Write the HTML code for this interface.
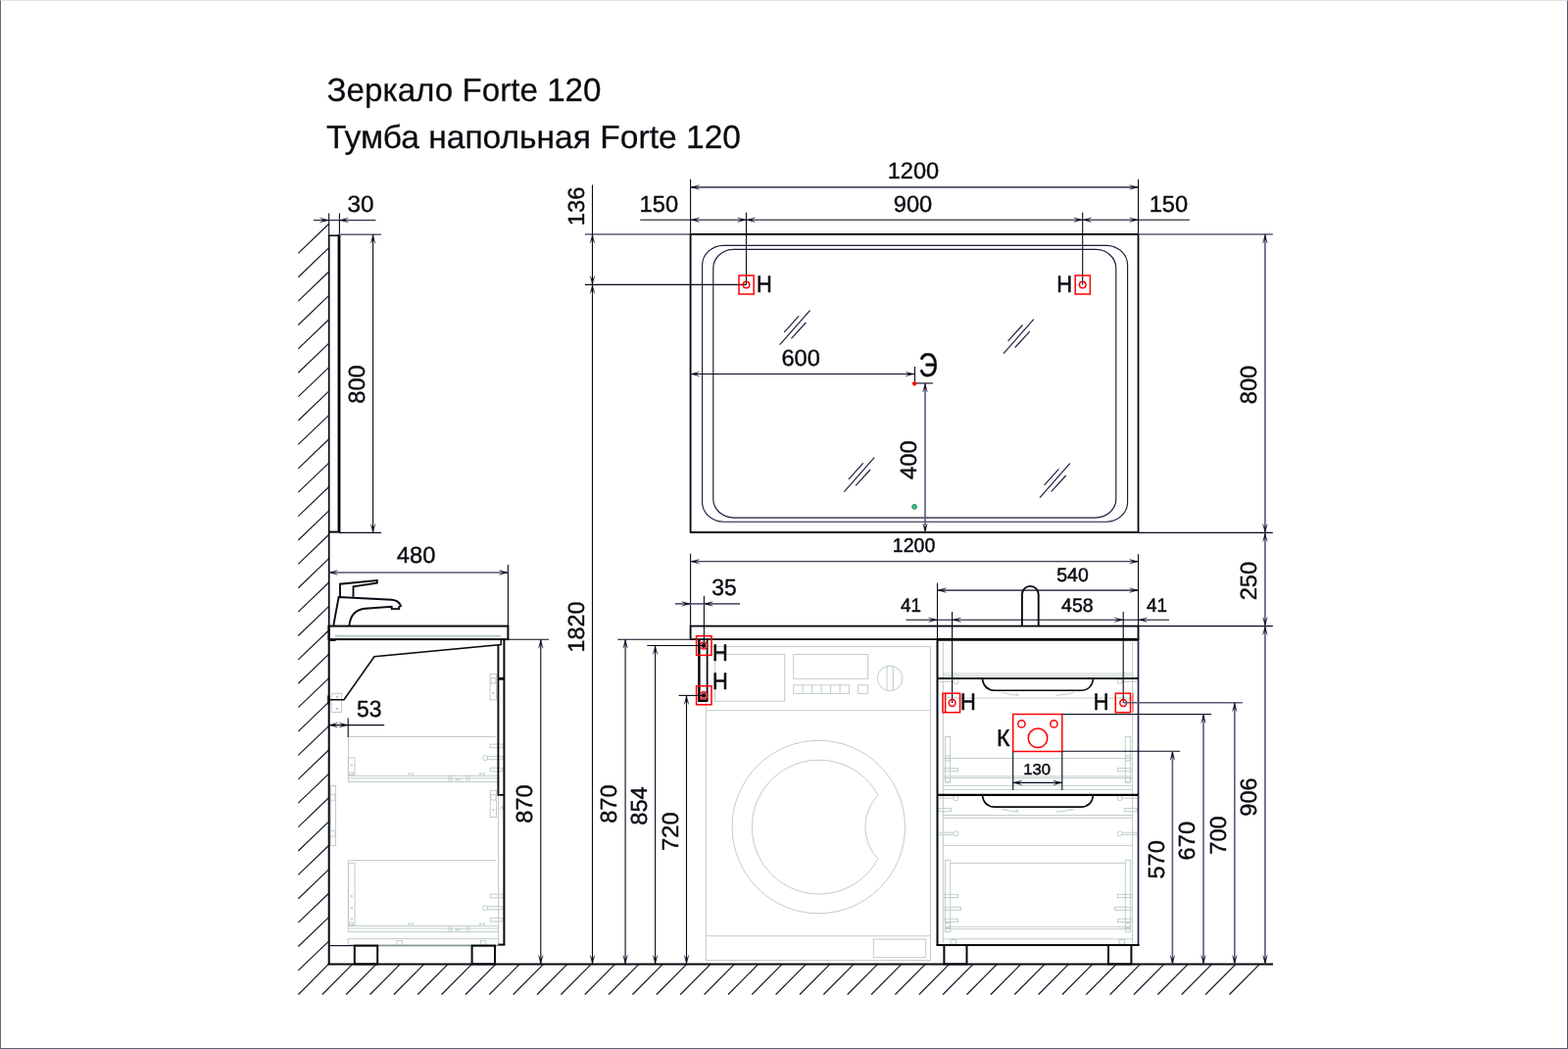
<!DOCTYPE html>
<html lang="ru">
<head>
<meta charset="utf-8">
<title>Зеркало Forte 120 / Тумба напольная Forte 120</title>
<style>
html,body{margin:0;padding:0;background:#fff;}
body{width:1600px;height:1070px;overflow:hidden;position:relative;font-family:"Liberation Sans",sans-serif;}
.frame{position:absolute;left:0;top:0;width:1598px;height:1068px;border-left:1px solid #64647e;border-right:1px solid #54547a;border-bottom:1px solid #5e5e80;border-top:1px solid #dfe5e5;}
svg{position:absolute;left:0;top:0;display:block;will-change:transform;}
svg *{fill:none;}
svg text{font-family:"Liberation Sans",sans-serif;fill:#0a0a12;stroke:#0a0a12;stroke-width:0.38;text-rendering:geometricPrecision;}
svg text.ttl{fill:#0a0a10;stroke-width:0.25;}
svg text.tb{stroke-width:0.5;}
svg text.ts{stroke-width:0.45;}
.k{stroke:#08080f;stroke-width:2;}
.kk{stroke:#000;stroke-width:2.8;}
.kd{stroke:#000;stroke-width:2.4;}
.k2{stroke:#22223f;stroke-width:1.7;}
.kf{fill:#0a0a14 !important;stroke:none;}
.m{stroke:#0a0a14;stroke-width:1.6;stroke-linejoin:miter;}
.ms{stroke:#05050f;stroke-width:1.8;}
.fc{stroke:#0a0a14;stroke-width:1.9;stroke-linejoin:miter;}
.w1{stroke:#0c0c1c;stroke-width:1.75;}
.h{stroke:#14142c;stroke-width:1.15;}
.n{stroke:#1a1a3a;stroke-width:1.15;}
.d{stroke:#08081c;stroke-width:1.1;}
.d2{stroke:#5a5a78;stroke-width:1.6;}
.a{fill:#0b0b1e !important;stroke:#0b0b1e;stroke-width:0.3;stroke-linejoin:miter;}
.d3{stroke:#2e2e4a;stroke-width:1.3;}
.l{stroke:#bfcdc8;stroke-width:1;}
.l2{stroke:#b3c4be;stroke-width:1.7;}
.l3{stroke:#7d8c90;stroke-width:1.2;}
.r{stroke:#ff0000;stroke-width:1.5;}
.r2{stroke:#ff3030;stroke-width:1;}
.rf{fill:#f00 !important;stroke:none;}
.g{fill:#2ecf8a !important;stroke:#1d5a48;stroke-width:0.8;}
</style>
</head>
<body>
<div class="frame"></div>
<svg width="1600" height="1070" viewBox="0 0 1600 1070">
<g id="titles">
<text class="ttl" x="333.5" y="102.7" font-size="33.2" textLength="280" lengthAdjust="spacingAndGlyphs">Зеркало Forte 120</text>
<text class="ttl" x="333" y="151.3" font-size="33.2" textLength="423" lengthAdjust="spacingAndGlyphs">Тумба напольная Forte 120</text>
</g>
<g id="hatch">
<line class="h" x1="304.3" y1="989.9" x2="335.7" y2="959.8"/>
<line class="h" x1="304.3" y1="965.51" x2="335.7" y2="935.41"/>
<line class="h" x1="304.3" y1="941.13" x2="335.7" y2="911.03"/>
<line class="h" x1="304.3" y1="916.75" x2="335.7" y2="886.64"/>
<line class="h" x1="304.3" y1="892.36" x2="335.7" y2="862.26"/>
<line class="h" x1="304.3" y1="867.98" x2="335.7" y2="837.88"/>
<line class="h" x1="304.3" y1="843.59" x2="335.7" y2="813.49"/>
<line class="h" x1="304.3" y1="819.2" x2="335.7" y2="789.1"/>
<line class="h" x1="304.3" y1="794.82" x2="335.7" y2="764.72"/>
<line class="h" x1="304.3" y1="770.43" x2="335.7" y2="740.33"/>
<line class="h" x1="304.3" y1="746.05" x2="335.7" y2="715.95"/>
<line class="h" x1="304.3" y1="721.66" x2="335.7" y2="691.56"/>
<line class="h" x1="304.3" y1="697.28" x2="335.7" y2="667.18"/>
<line class="h" x1="304.3" y1="672.89" x2="335.7" y2="642.79"/>
<line class="h" x1="304.3" y1="648.51" x2="335.7" y2="618.41"/>
<line class="h" x1="304.3" y1="624.12" x2="335.7" y2="594.02"/>
<line class="h" x1="304.3" y1="599.74" x2="335.7" y2="569.64"/>
<line class="h" x1="304.3" y1="575.35" x2="335.7" y2="545.25"/>
<line class="h" x1="304.3" y1="550.97" x2="335.7" y2="520.87"/>
<line class="h" x1="304.3" y1="526.58" x2="335.7" y2="496.48"/>
<line class="h" x1="304.3" y1="502.2" x2="335.7" y2="472.1"/>
<line class="h" x1="304.3" y1="477.81" x2="335.7" y2="447.71"/>
<line class="h" x1="304.3" y1="453.43" x2="335.7" y2="423.33"/>
<line class="h" x1="304.3" y1="429.04" x2="335.7" y2="398.94"/>
<line class="h" x1="304.3" y1="404.66" x2="335.7" y2="374.56"/>
<line class="h" x1="304.3" y1="380.27" x2="335.7" y2="350.17"/>
<line class="h" x1="304.3" y1="355.89" x2="335.7" y2="325.79"/>
<line class="h" x1="304.3" y1="331.5" x2="335.7" y2="301.4"/>
<line class="h" x1="304.3" y1="307.12" x2="335.7" y2="277.02"/>
<line class="h" x1="304.3" y1="282.73" x2="335.7" y2="252.63"/>
<line class="h" x1="304.3" y1="258.35" x2="335.7" y2="228.25"/>
<line class="h" x1="304.4" y1="1014.5" x2="335.6" y2="983.2"/>
<line class="h" x1="328.76" y1="1014.5" x2="359.96" y2="983.2"/>
<line class="h" x1="353.12" y1="1014.5" x2="384.32" y2="983.2"/>
<line class="h" x1="377.48" y1="1014.5" x2="408.68" y2="983.2"/>
<line class="h" x1="401.84" y1="1014.5" x2="433.04" y2="983.2"/>
<line class="h" x1="426.2" y1="1014.5" x2="457.4" y2="983.2"/>
<line class="h" x1="450.56" y1="1014.5" x2="481.76" y2="983.2"/>
<line class="h" x1="474.92" y1="1014.5" x2="506.12" y2="983.2"/>
<line class="h" x1="499.28" y1="1014.5" x2="530.48" y2="983.2"/>
<line class="h" x1="523.64" y1="1014.5" x2="554.84" y2="983.2"/>
<line class="h" x1="548" y1="1014.5" x2="579.2" y2="983.2"/>
<line class="h" x1="572.36" y1="1014.5" x2="603.56" y2="983.2"/>
<line class="h" x1="596.72" y1="1014.5" x2="627.92" y2="983.2"/>
<line class="h" x1="621.08" y1="1014.5" x2="652.28" y2="983.2"/>
<line class="h" x1="645.44" y1="1014.5" x2="676.64" y2="983.2"/>
<line class="h" x1="669.8" y1="1014.5" x2="701" y2="983.2"/>
<line class="h" x1="694.16" y1="1014.5" x2="725.36" y2="983.2"/>
<line class="h" x1="718.52" y1="1014.5" x2="749.72" y2="983.2"/>
<line class="h" x1="742.88" y1="1014.5" x2="774.08" y2="983.2"/>
<line class="h" x1="767.24" y1="1014.5" x2="798.44" y2="983.2"/>
<line class="h" x1="791.6" y1="1014.5" x2="822.8" y2="983.2"/>
<line class="h" x1="815.96" y1="1014.5" x2="847.16" y2="983.2"/>
<line class="h" x1="840.32" y1="1014.5" x2="871.52" y2="983.2"/>
<line class="h" x1="864.68" y1="1014.5" x2="895.88" y2="983.2"/>
<line class="h" x1="889.04" y1="1014.5" x2="920.24" y2="983.2"/>
<line class="h" x1="913.4" y1="1014.5" x2="944.6" y2="983.2"/>
<line class="h" x1="937.76" y1="1014.5" x2="968.96" y2="983.2"/>
<line class="h" x1="962.12" y1="1014.5" x2="993.32" y2="983.2"/>
<line class="h" x1="986.48" y1="1014.5" x2="1017.68" y2="983.2"/>
<line class="h" x1="1010.84" y1="1014.5" x2="1042.04" y2="983.2"/>
<line class="h" x1="1035.2" y1="1014.5" x2="1066.4" y2="983.2"/>
<line class="h" x1="1059.56" y1="1014.5" x2="1090.76" y2="983.2"/>
<line class="h" x1="1083.92" y1="1014.5" x2="1115.12" y2="983.2"/>
<line class="h" x1="1108.28" y1="1014.5" x2="1139.48" y2="983.2"/>
<line class="h" x1="1132.64" y1="1014.5" x2="1163.84" y2="983.2"/>
<line class="h" x1="1157" y1="1014.5" x2="1188.2" y2="983.2"/>
<line class="h" x1="1181.36" y1="1014.5" x2="1212.56" y2="983.2"/>
<line class="h" x1="1205.72" y1="1014.5" x2="1236.92" y2="983.2"/>
<line class="h" x1="1230.08" y1="1014.5" x2="1261.28" y2="983.2"/>
<line class="h" x1="1254.44" y1="1014.5" x2="1285.64" y2="983.2"/>
</g>
<g id="wallfloor">
<line class="d" x1="335.7" y1="217.5" x2="335.7" y2="240"/>
<line class="w1" x1="335.7" y1="240" x2="335.7" y2="638.6"/>
<line class="k" x1="335.7" y1="638.6" x2="335.7" y2="983.4"/>
<line class="k" x1="334.5" y1="983.4" x2="1299" y2="983.4"/>
</g>
<g id="mirror-side">
<line class="kk" x1="346" y1="239" x2="346" y2="543.1"/>
<line class="m" x1="335.5" y1="240.3" x2="346" y2="240.3"/>
<line class="k" x1="335.5" y1="542.6" x2="346" y2="542.6"/>
<line class="d" x1="346.4" y1="217.5" x2="346.4" y2="239"/>
<line class="d3" x1="320" y1="224.6" x2="383.4" y2="224.6"/>
<polygon class="a" points="335.5,224.6 326.5,222.3 330.9,224.6 326.5,226.9"/>
<polygon class="a" points="346.4,224.6 355.4,222.3 351,224.6 355.4,226.9"/>
<text class="t" x="368" y="215.7" font-size="23.4" text-anchor="middle" textLength="27" lengthAdjust="spacingAndGlyphs">30</text>
<line class="d2" x1="346" y1="239.3" x2="389" y2="239.3"/>
<line class="d" x1="346" y1="543.4" x2="389" y2="543.4"/>
<line class="d" x1="380.6" y1="239.3" x2="380.6" y2="543.4"/>
<polygon class="a" points="380.6,239.3 378.3,248.3 380.6,243.9 382.9,248.3"/>
<polygon class="a" points="380.6,543.4 378.3,534.4 380.6,538.8 382.9,534.4"/>
<text class="t" transform="translate(371.7 392) rotate(-90)" font-size="23.4" text-anchor="middle" textLength="39.5" lengthAdjust="spacingAndGlyphs">800</text>
</g>
<g id="side-light">
<rect class="l" x="338.3" y="707.3" width="10.3" height="19.2"/>
<rect class="l" x="343.3" y="710.3" width="1.4" height="1.4"/>
<rect class="l" x="343.3" y="722.3" width="1.4" height="1.4"/>
<rect class="l" x="500.1" y="687.5" width="6.4" height="26.3"/>
<rect class="l" x="501" y="691.5" width="5" height="5.5"/>
<rect class="l" x="502.8" y="706.3" width="1" height="1"/>
<path class="l" d="M355.4 751.5 L506.3 751.5 M355.4 751.5 L355.4 797.5 L508 797.5 M355.4 791.3 L508 791.3 M355.4 793.9 L508 793.9"/>
<rect class="l" x="355.4" y="773" width="6.6" height="17.7"/>
<rect class="l" x="356.2" y="788" width="4.4" height="2.3"/>
<rect class="l" x="358.5" y="780" width="1" height="1"/>
<rect class="l" x="500.2" y="759.1" width="12.5" height="3.6"/>
<rect class="l" x="500.2" y="783.3" width="12.5" height="3.6"/>
<circle class="l" cx="495.1" cy="773.1" r="2.6"/>
<rect class="l" x="497.7" y="771.5" width="15" height="3.2"/>
<rect class="l" x="458.1" y="791.3" width="2.5" height="6.2"/>
<rect class="l" x="476.3" y="791.3" width="2.5" height="6.2"/>
<rect class="l" x="417" y="788.9" width="1" height="1"/>
<rect class="l" x="420.3" y="788.9" width="1" height="1"/>
<rect class="l" x="489.5" y="788.9" width="1" height="1"/>
<rect class="l" x="493.1" y="788.9" width="1" height="1"/>
<rect class="l" x="465.3" y="794.8" width="1" height="1"/>
<rect class="l" x="467.9" y="794.8" width="1" height="1"/>
<path class="l" d="M355.4 877.6 L506.3 877.6 M355.4 877.6 L355.4 950.6 L508 950.6 M355.4 944.4 L508 944.4 M355.4 947 L508 947"/>
<rect class="l" x="355.4" y="880.4" width="6.6" height="63.4"/>
<rect class="l" x="356.2" y="941.1" width="4.4" height="2.3"/>
<rect class="l" x="358.5" y="937.1" width="1" height="1"/>
<rect class="l" x="358.5" y="925.4" width="1" height="1"/>
<rect class="l" x="358.5" y="913.6" width="1" height="1"/>
<rect class="l" x="500.2" y="912.2" width="12.5" height="3.6"/>
<rect class="l" x="500.2" y="936.4" width="12.5" height="3.6"/>
<circle class="l" cx="495.1" cy="926.2" r="2.6"/>
<rect class="l" x="497.7" y="924.6" width="15" height="3.2"/>
<rect class="l" x="458.1" y="944.4" width="2.5" height="6.2"/>
<rect class="l" x="476.3" y="944.4" width="2.5" height="6.2"/>
<rect class="l" x="417" y="942" width="1" height="1"/>
<rect class="l" x="420.3" y="942" width="1" height="1"/>
<rect class="l" x="489.5" y="942" width="1" height="1"/>
<rect class="l" x="493.1" y="942" width="1" height="1"/>
<rect class="l" x="465.3" y="947.9" width="1" height="1"/>
<rect class="l" x="467.9" y="947.9" width="1" height="1"/>
<rect class="l" x="337.5" y="801.3" width="5" height="61.2"/>
<rect class="l" x="337.5" y="810.6" width="4.5" height="5.6"/>
<rect class="l" x="337.5" y="847.3" width="4.5" height="5.8"/>
<rect class="l" x="500.2" y="806.3" width="6.3" height="27.2"/>
<rect class="l" x="501" y="810.6" width="5" height="5.4"/>
<rect class="l" x="502.8" y="825.5" width="1" height="1"/>
<line class="l" x1="508.5" y1="811" x2="508.5" y2="963"/>
<path class="l" d="M508.5 826 L512.5 822 L512.5 826"/>
<rect class="l" x="355.3" y="957.6" width="153.1" height="6.1"/>
<rect class="l" x="404.8" y="959.6" width="5.6" height="4.1"/>
<rect class="l" x="490.6" y="959.6" width="5.3" height="4.1"/>
</g>
<g id="cab-side">
<line class="d" x1="518.4" y1="576" x2="518.4" y2="638.6"/>
<line class="d2" x1="335.5" y1="584" x2="518.4" y2="584"/>
<polygon class="a" points="335.5,584 344.5,581.7 340.1,584 344.5,586.3"/>
<polygon class="a" points="518.4,584 509.4,581.7 513.8,584 509.4,586.3"/>
<text class="t" x="424.6" y="574" font-size="23.4" text-anchor="middle" textLength="39.5" lengthAdjust="spacingAndGlyphs">480</text>
<line class="l2" x1="342" y1="648.6" x2="511" y2="648.6"/>
<rect class="k" x="335.5" y="638.6" width="182.9" height="13.5"/>
<path class="fc" d="M340.3 638 L345.6 609.1 L399.7 611.8 C404 612.2 407.3 613.6 409.1 618.1 L407.2 619 L407.2 621.1 L399.7 621.1 L399.7 618.7 L372.8 620.7 C364 621.5 357.5 627 356.4 638 M347 609.1 L347 595.7 L384.8 592 L384.8 594.6 L360.5 598.3 L360.5 609.5"/>
<path class="m" d="M335.5 713.7 L351 713.7 L381.9 669.7 L511.3 657.5 L511.3 653"/>
<rect class="kf" x="334.2" y="709.5" width="2.3" height="9"/>
<rect class="kf" x="336" y="652" width="6.5" height="2"/>
<line class="k" x1="514.4" y1="652.1" x2="514.4" y2="963.6"/>
<path class="fc" d="M508.4 657.8 L508.4 810.9 L514.4 810.9"/>
<line class="kk" x1="508.4" y1="692.3" x2="514.4" y2="692.3"/>
<line class="d" x1="335.5" y1="964.6" x2="361.8" y2="964.6"/>
<line class="l3" x1="361.8" y1="964.6" x2="508.4" y2="964.6"/>
<line class="k" x1="508.4" y1="963.6" x2="515.4" y2="963.6"/>
<rect class="k" x="361.8" y="964.6" width="23.4" height="18.8"/>
<rect class="k" x="481.6" y="964.6" width="23.4" height="18.8"/>
<line class="d" x1="518.4" y1="652.2" x2="560" y2="652.2"/>
<line class="d" x1="551.8" y1="652.2" x2="551.8" y2="983.4"/>
<polygon class="a" points="551.8,652.2 549.5,661.2 551.8,656.8 554.1,661.2"/>
<polygon class="a" points="551.8,983.4 549.5,974.4 551.8,978.8 554.1,974.4"/>
<text class="t" transform="translate(543 820.1) rotate(-90)" font-size="23.4" text-anchor="middle" textLength="39.5" lengthAdjust="spacingAndGlyphs">870</text>
<line class="d" x1="355.2" y1="732.5" x2="355.2" y2="752"/>
<line class="d" x1="335.5" y1="739.6" x2="392.2" y2="739.6"/>
<polygon class="a" points="335.5,739.6 344.5,737.3 340.1,739.6 344.5,741.9"/>
<polygon class="a" points="355.2,739.6 346.2,737.3 350.6,739.6 346.2,741.9"/>
<text class="t" x="376.8" y="730.7" font-size="23.4" text-anchor="middle" textLength="25.5" lengthAdjust="spacingAndGlyphs">53</text>
</g>
<g id="mirror-front">
<rect class="n" x="716.6" y="250.3" width="434" height="281.9" rx="22" ry="20"/>
<rect class="n" x="727.8" y="254.4" width="411" height="273.7" rx="21" ry="19"/>
<line class="n" x1="795.7" y1="351.6" x2="826.5" y2="316.6"/>
<line class="n" x1="800.3" y1="338.8" x2="815.1" y2="322.4"/>
<line class="n" x1="807.4" y1="345.4" x2="822.4" y2="329"/>
<line class="n" x1="1024" y1="360.7" x2="1054.8" y2="325.7"/>
<line class="n" x1="1028.6" y1="347.9" x2="1043.4" y2="331.5"/>
<line class="n" x1="1035.7" y1="354.5" x2="1050.7" y2="338.1"/>
<line class="n" x1="861.4" y1="501.6" x2="892.2" y2="466.6"/>
<line class="n" x1="866" y1="488.8" x2="880.8" y2="472.4"/>
<line class="n" x1="873.1" y1="495.4" x2="888.1" y2="479"/>
<line class="n" x1="1061" y1="507.6" x2="1091.8" y2="472.6"/>
<line class="n" x1="1065.6" y1="494.8" x2="1080.4" y2="478.4"/>
<line class="n" x1="1072.7" y1="501.4" x2="1087.7" y2="485"/>
<line class="d" x1="704.6" y1="183.1" x2="704.6" y2="239"/>
<line class="d" x1="1161.5" y1="183.1" x2="1161.5" y2="239"/>
<line class="d3" x1="704.6" y1="191" x2="1161.5" y2="191"/>
<polygon class="a" points="704.6,191 713.6,188.7 709.2,191 713.6,193.3"/>
<polygon class="a" points="1161.5,191 1152.5,188.7 1156.9,191 1152.5,193.3"/>
<text class="t" x="932" y="182.4" font-size="23.4" text-anchor="middle" textLength="52.5" lengthAdjust="spacingAndGlyphs">1200</text>
<line class="d" x1="653.2" y1="224.3" x2="1213.8" y2="224.3"/>
<polygon class="a" points="704.6,224.3 713.6,222 709.2,224.3 713.6,226.6"/>
<polygon class="a" points="761.5,224.3 752.5,222 756.9,224.3 752.5,226.6"/>
<polygon class="a" points="761.5,224.3 770.5,222 766.1,224.3 770.5,226.6"/>
<polygon class="a" points="1104.7,224.3 1095.7,222 1100.1,224.3 1095.7,226.6"/>
<polygon class="a" points="1104.7,224.3 1113.7,222 1109.3,224.3 1113.7,226.6"/>
<polygon class="a" points="1161.5,224.3 1152.5,222 1156.9,224.3 1152.5,226.6"/>
<text class="t" x="672.3" y="215.8" font-size="23.4" text-anchor="middle" textLength="39.5" lengthAdjust="spacingAndGlyphs">150</text>
<text class="t" x="931.5" y="215.8" font-size="23.4" text-anchor="middle" textLength="39.5" lengthAdjust="spacingAndGlyphs">900</text>
<text class="t" x="1192.4" y="215.8" font-size="23.4" text-anchor="middle" textLength="39.5" lengthAdjust="spacingAndGlyphs">150</text>
<line class="d" x1="761.5" y1="216.7" x2="761.5" y2="290.4"/>
<line class="d" x1="1104.7" y1="216.7" x2="1104.7" y2="290.4"/>
<line class="d2" x1="597" y1="239" x2="704.6" y2="239"/>
<line class="d" x1="597" y1="290.4" x2="761.5" y2="290.4"/>
<line class="d" x1="604.5" y1="188.4" x2="604.5" y2="983.4"/>
<polygon class="a" points="604.5,239 602.2,248 604.5,243.6 606.8,248"/>
<polygon class="a" points="604.5,290.4 602.2,281.4 604.5,285.8 606.8,281.4"/>
<polygon class="a" points="604.5,290.4 602.2,299.4 604.5,295 606.8,299.4"/>
<polygon class="a" points="604.5,983.4 602.2,974.4 604.5,978.8 606.8,974.4"/>
<text class="t" transform="translate(596.2 210.4) rotate(-90)" font-size="23.4" text-anchor="middle" textLength="39.5" lengthAdjust="spacingAndGlyphs">136</text>
<text class="t" transform="translate(596.2 639.4) rotate(-90)" font-size="23.4" text-anchor="middle" textLength="52" lengthAdjust="spacingAndGlyphs">1820</text>
<line class="ms" x1="704.6" y1="239" x2="704.6" y2="543.1"/>
<line class="ms" x1="1161.5" y1="239" x2="1161.5" y2="543.1"/>
<line class="k" x1="703.9" y1="239" x2="1162.2" y2="239"/>
<line class="k" x1="703.9" y1="543.1" x2="1162.2" y2="543.1"/>
<rect class="r" x="754" y="281" width="15.2" height="19"/>
<circle class="r" cx="761.5" cy="290.5" r="3.3"/>
<rect class="r" x="1097.2" y="281" width="15.2" height="19"/>
<circle class="r" cx="1104.7" cy="290.5" r="3.3"/>
<text class="tb" x="779.8" y="298" font-size="23.9" text-anchor="middle" textLength="15.8" lengthAdjust="spacingAndGlyphs">Н</text>
<text class="tb" x="1086.2" y="298" font-size="23.9" text-anchor="middle" textLength="15.8" lengthAdjust="spacingAndGlyphs">Н</text>
<line class="d" x1="704.6" y1="381.5" x2="933" y2="381.5"/>
<polygon class="a" points="704.6,381.5 713.6,379.2 709.2,381.5 713.6,383.8"/>
<polygon class="a" points="933,381.5 924,379.2 928.4,381.5 924,383.8"/>
<text class="t" x="817.2" y="372.6" font-size="23.4" text-anchor="middle" textLength="39.5" lengthAdjust="spacingAndGlyphs">600</text>
<line class="d" x1="933.5" y1="374" x2="933.5" y2="390"/>
<line class="d" x1="933" y1="390.9" x2="952" y2="390.9"/>
<line class="d2" x1="944" y1="390.9" x2="944" y2="543.1"/>
<polygon class="a" points="944,390.9 941.7,399.9 944,395.5 946.3,399.9"/>
<polygon class="a" points="944,543.1 941.7,534.1 944,538.5 946.3,534.1"/>
<text class="t" transform="translate(935.3 469.2) rotate(-90)" font-size="23.4" text-anchor="middle" textLength="39.5" lengthAdjust="spacingAndGlyphs">400</text>
<path class="rf" d="M933.1 388.4 L935.9 391.2 L933.1 394 L930.3 391.2 Z"/>
<circle class="g" cx="933.1" cy="516.9" r="2.4"/>
<text class="t" x="947.2" y="383.8" font-size="34" text-anchor="middle" textLength="19.3" lengthAdjust="spacingAndGlyphs">Э</text>
<line class="d2" x1="1161.5" y1="239" x2="1298.8" y2="239"/>
<line class="d" x1="1161.5" y1="543.4" x2="1298.8" y2="543.4"/>
<line class="d" x1="1161.5" y1="638.6" x2="1298.8" y2="638.6"/>
<line class="d2" x1="1290.9" y1="239" x2="1290.9" y2="983.4"/>
<polygon class="a" points="1290.9,239 1288.6,248 1290.9,243.6 1293.2,248"/>
<polygon class="a" points="1290.9,543.4 1288.6,534.4 1290.9,538.8 1293.2,534.4"/>
<polygon class="a" points="1290.9,543.4 1288.6,552.4 1290.9,548 1293.2,552.4"/>
<polygon class="a" points="1290.9,638.6 1288.6,629.6 1290.9,634 1293.2,629.6"/>
<polygon class="a" points="1290.9,638.6 1288.6,647.6 1290.9,643.2 1293.2,647.6"/>
<polygon class="a" points="1290.9,983.4 1288.6,974.4 1290.9,978.8 1293.2,974.4"/>
<text class="t" transform="translate(1282.2 392.5) rotate(-90)" font-size="23.4" text-anchor="middle" textLength="39.5" lengthAdjust="spacingAndGlyphs">800</text>
<text class="t" transform="translate(1282.2 592.6) rotate(-90)" font-size="23.4" text-anchor="middle" textLength="39.5" lengthAdjust="spacingAndGlyphs">250</text>
<text class="t" transform="translate(1282.2 813) rotate(-90)" font-size="23.4" text-anchor="middle" textLength="39.5" lengthAdjust="spacingAndGlyphs">906</text>
</g>
<g id="washer">
<rect class="l" x="720.3" y="659.6" width="229.1" height="320"/>
<line class="l" x1="720.3" y1="724.7" x2="949.4" y2="724.7"/>
<line class="l" x1="720.3" y1="954.7" x2="949.4" y2="954.7"/>
<rect class="l" x="729.6" y="667.5" width="71.1" height="47.8"/>
<rect class="l" x="809.7" y="667.5" width="75.9" height="24.8"/>
<rect class="l" x="809.7" y="698.8" width="56.8" height="8.6"/>
<line class="l" x1="819.17" y1="698.8" x2="819.17" y2="707.4"/>
<line class="l" x1="828.64" y1="698.8" x2="828.64" y2="707.4"/>
<line class="l" x1="838.11" y1="698.8" x2="838.11" y2="707.4"/>
<line class="l" x1="847.58" y1="698.8" x2="847.58" y2="707.4"/>
<line class="l" x1="857.05" y1="698.8" x2="857.05" y2="707.4"/>
<rect class="l" x="875.7" y="698.8" width="9.9" height="8.6"/>
<circle class="l" cx="908.1" cy="691.9" r="12.8"/>
<line class="l" x1="905" y1="679.6" x2="905" y2="704.2"/>
<line class="l" x1="911.3" y1="679.6" x2="911.3" y2="704.2"/>
<circle class="l" cx="835.3" cy="843.5" r="88.2"/>
<path class="l" d="M896 811.2 A68.4 68.4 0 1 0 896 876 A46.4 46.4 0 0 1 896 811.2 Z"/>
<rect class="l" x="891.3" y="958" width="53.4" height="18.6"/>
</g>
<g id="front-light">
<line class="l" x1="962.4" y1="655" x2="962.4" y2="962"/>
<line class="l" x1="1155.6" y1="655" x2="1155.6" y2="962"/>
<line class="l" x1="962.4" y1="687" x2="1155.6" y2="687"/>
<line class="l" x1="962.4" y1="689.3" x2="1155.6" y2="689.3"/>
<line class="l" x1="962.4" y1="712" x2="1155.6" y2="712"/>
<line class="l" x1="962.4" y1="773.5" x2="1155.6" y2="773.5"/>
<line class="l" x1="962.4" y1="791.9" x2="1155.6" y2="791.9"/>
<line class="l" x1="962.4" y1="793.7" x2="1155.6" y2="793.7"/>
<line class="l" x1="962.4" y1="801.3" x2="1155.6" y2="801.3"/>
<line class="l" x1="962.4" y1="805.4" x2="1155.6" y2="805.4"/>
<line class="l" x1="962.4" y1="831.5" x2="1155.6" y2="831.5"/>
<line class="l" x1="962.4" y1="834.3" x2="1155.6" y2="834.3"/>
<line class="l" x1="962.4" y1="862.4" x2="1155.6" y2="862.4"/>
<path class="l" d="M1021.5 706.2 Q1030 709 1040 709.2 M1077 709.2 Q1088 709 1096 706.2 M1037.5 707 L1037.5 709.5"/>
<rect class="l" x="973.1" y="692.8" width="4.4" height="4.8" rx="1.4"/>
<line class="l" x1="973.1" y1="695.2" x2="957.5" y2="695.2"/>
<rect class="l" x="1140.4" y="692.8" width="4.4" height="4.8" rx="1.4"/>
<line class="l" x1="1144.8" y1="695.2" x2="1160.5" y2="695.2"/>
<path class="l" d="M1021.5 825.1 Q1030 827.9 1040 828.1 M1077 828.1 Q1088 827.9 1096 825.1 M1037.5 825.9 L1037.5 828.4"/>
<rect class="l" x="973.1" y="811.7" width="4.4" height="4.8" rx="1.4"/>
<line class="l" x1="973.1" y1="814.1" x2="957.5" y2="814.1"/>
<rect class="l" x="1140.4" y="811.7" width="4.4" height="4.8" rx="1.4"/>
<line class="l" x1="1144.8" y1="814.1" x2="1160.5" y2="814.1"/>
<rect class="l" x="957.5" y="824.6" width="13.1" height="3.1"/>
<circle class="l" cx="975.3" cy="850.3" r="2.5"/>
<line class="l" x1="957.5" y1="849.2" x2="972.8" y2="849.2"/>
<line class="l" x1="957.5" y1="851.4" x2="972.8" y2="851.4"/>
<rect class="l" x="1147.4" y="824.6" width="13.1" height="3.1"/>
<circle class="l" cx="1142.6" cy="850.3" r="2.5"/>
<line class="l" x1="1145.1" y1="849.2" x2="1160.5" y2="849.2"/>
<line class="l" x1="1145.1" y1="851.4" x2="1160.5" y2="851.4"/>
<rect class="l" x="964.4" y="751.5" width="5.3" height="46.5"/>
<rect class="l" x="965" y="771" width="4.1" height="5"/>
<rect class="l" x="964" y="783.6" width="13.5" height="3.2"/>
<rect class="l" x="964.7" y="793.5" width="4.7" height="4.5"/>
<rect class="l" x="964.4" y="877.4" width="5.3" height="73.3"/>
<rect class="l" x="964" y="912.3" width="13.5" height="3.3"/>
<rect class="l" x="964" y="925.3" width="16.5" height="3"/>
<rect class="l" x="964" y="937.2" width="13.5" height="3.2"/>
<rect class="l" x="964.7" y="941.5" width="4.7" height="5"/>
<rect class="l" x="1148.3" y="751.5" width="5.3" height="46.5"/>
<rect class="l" x="1148.9" y="771" width="4.1" height="5"/>
<rect class="l" x="1140.5" y="783.6" width="13.5" height="3.2"/>
<rect class="l" x="1148.6" y="793.5" width="4.7" height="4.5"/>
<rect class="l" x="1148.3" y="877.4" width="5.3" height="73.3"/>
<rect class="l" x="1140.5" y="912.3" width="13.5" height="3.3"/>
<rect class="l" x="1137.5" y="925.3" width="16.5" height="3"/>
<rect class="l" x="1140.5" y="937.2" width="13.5" height="3.2"/>
<rect class="l" x="1148.6" y="941.5" width="4.7" height="5"/>
<line class="l" x1="969.7" y1="880.3" x2="1148.3" y2="880.3"/>
<line class="l" x1="964.4" y1="945.3" x2="1153.6" y2="945.3"/>
<line class="l" x1="964.4" y1="947.6" x2="1153.6" y2="947.6"/>
<line class="l" x1="962.4" y1="957.8" x2="1155.6" y2="957.8"/>
<rect class="l" x="970" y="958.6" width="5.5" height="4.4"/>
<rect class="l" x="1142" y="958.6" width="5.5" height="4.4"/>
</g>
<g id="cab-front">
<line class="d" x1="704.6" y1="564.7" x2="704.6" y2="638.6"/>
<line class="d" x1="1161.5" y1="565.2" x2="1161.5" y2="652.1"/>
<line class="d" x1="704.6" y1="572.8" x2="1161.5" y2="572.8"/>
<polygon class="a" points="704.6,572.8 713.6,570.5 709.2,572.8 713.6,575.1"/>
<polygon class="a" points="1161.5,572.8 1152.5,570.5 1156.9,572.8 1152.5,575.1"/>
<text class="ts" x="932.6" y="563.1" font-size="20" text-anchor="middle" textLength="43.5" lengthAdjust="spacingAndGlyphs">1200</text>
<line class="d" x1="956.5" y1="594.6" x2="956.5" y2="652.1"/>
<line class="d" x1="956.5" y1="602.1" x2="1161.5" y2="602.1"/>
<polygon class="a" points="956.5,602.1 965.5,599.8 961.1,602.1 965.5,604.4"/>
<polygon class="a" points="1161.5,602.1 1152.5,599.8 1156.9,602.1 1152.5,604.4"/>
<text class="ts" x="1094.5" y="593.1" font-size="19.5" text-anchor="middle" textLength="32.5" lengthAdjust="spacingAndGlyphs">540</text>
<line class="d" x1="924.4" y1="632.3" x2="1193" y2="632.3"/>
<polygon class="a" points="956.5,632.3 947.5,630 951.9,632.3 947.5,634.6"/>
<polygon class="a" points="971.6,632.3 980.6,630 976.2,632.3 980.6,634.6"/>
<polygon class="a" points="1146.2,632.3 1137.2,630 1141.6,632.3 1137.2,634.6"/>
<polygon class="a" points="1161.5,632.3 1170.5,630 1166.1,632.3 1170.5,634.6"/>
<text class="ts" x="929.5" y="623.8" font-size="19.5" text-anchor="middle" textLength="21" lengthAdjust="spacingAndGlyphs">41</text>
<text class="ts" x="1099.3" y="623.8" font-size="19.5" text-anchor="middle" textLength="32.5" lengthAdjust="spacingAndGlyphs">458</text>
<text class="ts" x="1180.6" y="623.8" font-size="19.5" text-anchor="middle" textLength="21" lengthAdjust="spacingAndGlyphs">41</text>
<line class="d" x1="971.6" y1="624" x2="971.6" y2="717"/>
<line class="d" x1="1146.2" y1="624" x2="1146.2" y2="717"/>
<line class="d" x1="718.4" y1="607.8" x2="718.4" y2="658"/>
<line class="d2" x1="689" y1="615.9" x2="755" y2="615.9"/>
<polygon class="a" points="704.6,615.9 695.6,613.6 700,615.9 695.6,618.2"/>
<polygon class="a" points="718.4,615.9 727.4,613.6 723,615.9 727.4,618.2"/>
<text class="t" x="739" y="607" font-size="23.4" text-anchor="middle" textLength="25.5" lengthAdjust="spacingAndGlyphs">35</text>
<path class="fc" d="M1042.9 638.6 L1042.9 606.3 A8.4 8.4 0 0 1 1059.7 606.3 L1059.7 638.6"/>
<rect class="ms" x="704.6" y="638.6" width="456.9" height="13.5"/>
<line class="kk" x1="956.5" y1="652.4" x2="1161.5" y2="652.4"/>
<line class="k" x1="956.5" y1="652.1" x2="956.5" y2="964"/>
<line class="k2" x1="1161.5" y1="652.1" x2="1161.5" y2="964"/>
<line class="k" x1="955.5" y1="964" x2="1162.5" y2="964"/>
<line class="k" x1="956.5" y1="692" x2="1161.5" y2="692"/>
<line class="kd" x1="956.5" y1="810.9" x2="1161.5" y2="810.9"/>
<path class="m" d="M1002.2 692 C1003.5 700 1007 704.2 1015 704.2 L1103 704.2 C1111 704.2 1114.5 700 1115.7 692"/>
<path class="m" d="M1002.2 810.9 C1003.5 818.9 1007 823.1 1015 823.1 L1103 823.1 C1111 823.1 1114.5 818.9 1115.7 810.9"/>
<rect class="k" x="963.4" y="964" width="23.1" height="19.4"/>
<rect class="k" x="1131" y="964" width="23.4" height="19.4"/>
<path class="m" d="M721.7 652.4 L721.7 714.7"/>
<path class="kd" d="M713.4 652.4 L713.4 714.7 L722.3 714.7"/>
<circle class="kf" cx="718.1" cy="658.5" r="2.4"/>
<circle class="r" cx="718.1" cy="658.5" r="3.6"/>
<circle class="kf" cx="718.1" cy="709.4" r="2.4"/>
<circle class="r" cx="718.1" cy="709.4" r="3.6"/>
<rect class="r" x="710.6" y="648.7" width="15.4" height="19.7"/>
<rect class="r" x="710.6" y="699.7" width="15.4" height="19.1"/>
<text class="tb" x="734.8" y="673.5" font-size="23.9" text-anchor="middle" textLength="15.8" lengthAdjust="spacingAndGlyphs">Н</text>
<text class="tb" x="734.8" y="702.6" font-size="23.9" text-anchor="middle" textLength="15.8" lengthAdjust="spacingAndGlyphs">Н</text>
<line class="d" x1="630.3" y1="652.2" x2="704.6" y2="652.2"/>
<line class="d" x1="660.3" y1="658.5" x2="718" y2="658.5"/>
<line class="d" x1="692.6" y1="709.4" x2="718" y2="709.4"/>
<line class="d" x1="638.1" y1="652.2" x2="638.1" y2="983.4"/>
<polygon class="a" points="638.1,652.2 635.8,661.2 638.1,656.8 640.4,661.2"/>
<polygon class="a" points="638.1,983.4 635.8,974.4 638.1,978.8 640.4,974.4"/>
<line class="d" x1="668.6" y1="658.5" x2="668.6" y2="983.4"/>
<polygon class="a" points="668.6,658.5 666.3,667.5 668.6,663.1 670.9,667.5"/>
<polygon class="a" points="668.6,983.4 666.3,974.4 668.6,978.8 670.9,974.4"/>
<line class="d" x1="700.5" y1="709.4" x2="700.5" y2="983.4"/>
<polygon class="a" points="700.5,709.4 698.2,718.4 700.5,714 702.8,718.4"/>
<polygon class="a" points="700.5,983.4 698.2,974.4 700.5,978.8 702.8,974.4"/>
<text class="t" transform="translate(629 820.1) rotate(-90)" font-size="23.4" text-anchor="middle" textLength="39.5" lengthAdjust="spacingAndGlyphs">870</text>
<text class="t" transform="translate(660.2 822) rotate(-90)" font-size="23.4" text-anchor="middle" textLength="39.5" lengthAdjust="spacingAndGlyphs">854</text>
<text class="t" transform="translate(692.3 848.2) rotate(-90)" font-size="23.4" text-anchor="middle" textLength="39.5" lengthAdjust="spacingAndGlyphs">720</text>
<rect class="r" x="962" y="707.2" width="17.6" height="19.5"/>
<line class="r" x1="964.6" y1="707.2" x2="964.6" y2="726.7"/>
<circle class="r" cx="971.6" cy="717" r="3.4"/>
<rect class="r" x="1138.3" y="707.2" width="15.2" height="19.5"/>
<line class="r2" x1="1156" y1="707.2" x2="1156" y2="726.7"/>
<circle class="r" cx="1146.2" cy="717" r="3.4"/>
<text class="tb" x="988" y="723.8" font-size="23.9" text-anchor="middle" textLength="15.8" lengthAdjust="spacingAndGlyphs">Н</text>
<text class="tb" x="1123.6" y="723.8" font-size="23.9" text-anchor="middle" textLength="15.8" lengthAdjust="spacingAndGlyphs">Н</text>
<rect class="r" x="1033.7" y="728.5" width="50.1" height="38"/>
<circle class="r" cx="1042.4" cy="738.4" r="3.6"/>
<circle class="r" cx="1075.4" cy="738.4" r="3.6"/>
<circle class="r" cx="1059" cy="752.8" r="9.8"/>
<text class="tb" x="1023.7" y="761" font-size="24.3" text-anchor="middle" textLength="13.4" lengthAdjust="spacingAndGlyphs">К</text>
<line class="d" x1="1033.7" y1="766.5" x2="1033.7" y2="806"/>
<line class="d" x1="1083.8" y1="766.5" x2="1083.8" y2="806"/>
<line class="d" x1="1033.7" y1="798.4" x2="1083.8" y2="798.4"/>
<polygon class="a" points="1033.7,798.4 1042.7,796.1 1038.3,798.4 1042.7,800.7"/>
<polygon class="a" points="1083.8,798.4 1074.8,796.1 1079.2,798.4 1074.8,800.7"/>
<text class="ts" x="1058.1" y="789.7" font-size="15.6" text-anchor="middle" textLength="27.8" lengthAdjust="spacingAndGlyphs">130</text>
<line class="d2" x1="1146.2" y1="716.8" x2="1267.8" y2="716.8"/>
<line class="d" x1="1083.8" y1="728.5" x2="1236.2" y2="728.5"/>
<line class="d" x1="1083.8" y1="766.3" x2="1204.2" y2="766.3"/>
<line class="d2" x1="1196.4" y1="766.3" x2="1196.4" y2="983.4"/>
<polygon class="a" points="1196.4,766.3 1194.1,775.3 1196.4,770.9 1198.7,775.3"/>
<polygon class="a" points="1196.4,983.4 1194.1,974.4 1196.4,978.8 1198.7,974.4"/>
<line class="d2" x1="1228" y1="728.5" x2="1228" y2="983.4"/>
<polygon class="a" points="1228,728.5 1225.7,737.5 1228,733.1 1230.3,737.5"/>
<polygon class="a" points="1228,983.4 1225.7,974.4 1228,978.8 1230.3,974.4"/>
<line class="d2" x1="1259.8" y1="716.8" x2="1259.8" y2="983.4"/>
<polygon class="a" points="1259.8,716.8 1257.5,725.8 1259.8,721.4 1262.1,725.8"/>
<polygon class="a" points="1259.8,983.4 1257.5,974.4 1259.8,978.8 1262.1,974.4"/>
<text class="t" transform="translate(1188.2 876.8) rotate(-90)" font-size="23.4" text-anchor="middle" textLength="39.5" lengthAdjust="spacingAndGlyphs">570</text>
<text class="t" transform="translate(1219.2 857.7) rotate(-90)" font-size="23.4" text-anchor="middle" textLength="39.5" lengthAdjust="spacingAndGlyphs">670</text>
<text class="t" transform="translate(1250.8 852) rotate(-90)" font-size="23.4" text-anchor="middle" textLength="39.5" lengthAdjust="spacingAndGlyphs">700</text>
</g>
</svg>
</body>
</html>
